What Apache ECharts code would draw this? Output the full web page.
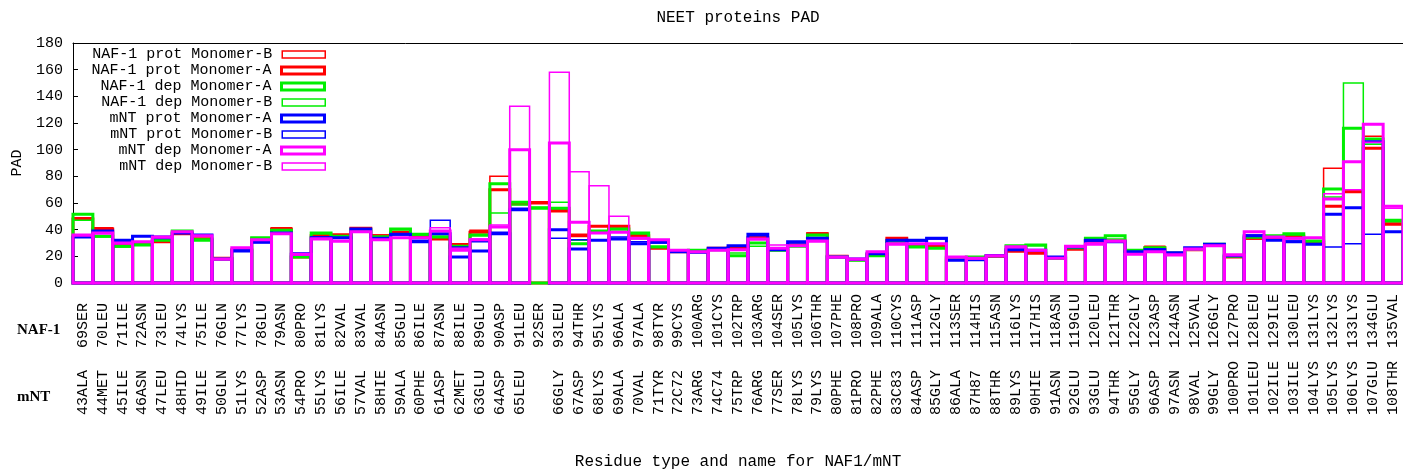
<!DOCTYPE html>
<html>
<head>
<meta charset="utf-8">
<script src="https://cdn.jsdelivr.net/npm/echarts@6/dist/echarts.min.js"></script>
<style>
  html, body { margin: 0; padding: 0; background: #fff; }
  #chart { width: 1403px; height: 470px; }
</style>
</head>
<body>
<div id="chart"></div>
<script>
// Residue labels: NAF-1 numbering on the first row, mNT numbering on the second
const nafResidues = ['69SER','70LEU','71ILE','72ASN','73LEU','74LYS','75ILE','76GLN','77LYS','78GLU','79ASN','80PRO','81LYS','82VAL','83VAL','84ASN','85GLU','86ILE','87ASN','88ILE','89GLU','90ASP','91LEU','92SER','93LEU','94THR','95LYS','96ALA','97ALA','98TYR','99CYS','100ARG','101CYS','102TRP','103ARG','104SER','105LYS','106THR','107PHE','108PRO','109ALA','110CYS','111ASP','112GLY','113SER','114HIS','115ASN','116LYS','117HIS','118ASN','119GLU','120LEU','121THR','122GLY','123ASP','124ASN','125VAL','126GLY','127PRO','128LEU','129ILE','130LEU','131LYS','132LYS','133LYS','134GLU','135VAL'];
const mntResidues = ['43ALA','44MET','45ILE','46ASN','47LEU','48HID','49ILE','50GLN','51LYS','52ASP','53ASN','54PRO','55LYS','56ILE','57VAL','58HIE','59ALA','60PHE','61ASP','62MET','63GLU','64ASP','65LEU','','66GLY','67ASP','68LYS','69ALA','70VAL','71TYR','72C72','73ARG','74C74','75TRP','76ARG','77SER','78LYS','79LYS','80PHE','81PRO','82PHE','83C83','84ASP','85GLY','86ALA','87H87','88THR','89LYS','90HIE','91ASN','92GLU','93GLU','94THR','95GLY','96ASP','97ASN','98VAL','99GLY','100PRO','101LEU','102ILE','103ILE','104LYS','105LYS','106LYS','107GLU','108THR'];

// PAD values per residue ('-' = no mNT residue at that position)
const nafProtB = [49,41.5,28.5,29.5,30.5,36.5,33.5,18,24.5,33.5, 41.5,20,36,36.5,41.5,36,38.5,35,33,29.5, 39.5,80,60,61,55,36.5,43,42,36,26.5, 24,23.5,26.5,27,34.5,25.5,28,37.5,20.5,17.5, 21,34,28.5,28.5,19.5,18.5,20,23.5,22,18, 25,31,32,23,27.5,21.5,25.5,29,20,33, 34,34.5,30,86,69,110,45];
const nafProtA = [48,40.5,28,29,31,37,33,18.5,25,33, 40.5,19.5,35.5,36,41,35.5,38,34.5,33,28.5, 38,70,59.5,60,54,35.5,42.5,42.5,35.5,26, 23.5,23.5,26,26.5,34,25,28.5,37,20,17.5, 21.5,33.5,28,28,19,18,20,24,22.5,18.5, 25.5,31.5,31.5,23.5,26.5,22,25,28.5,19.5,33.5, 33.5,35,30.5,57.5,68.5,101,44];
const nafDepA = [51.5,35,27.5,28.5,32,39,32,18,24.5,34, 39.5,19.5,37.5,35,40,34.5,40.5,36.5,34.5,27.5, 36,74.5,60.5,56,56,29.5,39,40.5,37.5,27, 24,24.5,25,20.5,30,24.5,27.5,36,19.5,17, 20.5,31,27,26,18.5,19.5,20.5,28,28.5,18.5, 26.5,33.5,35.5,24.5,26.5,22.5,25.5,29,20,34.5, 35.5,37,31.5,70.5,116,108,47];
const nafDepB = [47,34.5,27,30,32.5,38.5,33,17.5,25,33.5, 40,20,37,34.5,39.5,35,40,36,35,27, 35.5,52.5,58.5,57,60.5,32,38.5,40,37,27.5, 23.5,24,25.5,22.5,27.5,25,28,35.5,20,17.5, 21,31.5,27.5,26.5,19,19,20,27.5,28,18, 26,33,33,25,26,22,25,28.5,20.5,34, 35,36,31,64.5,150,104,46];
const mntProtA = [34.5,39,32,35,34,37.5,36,18,24,31, 37.5,21.5,34,34,40.5,33.5,36.5,31,37,19.5, 24,37,55,'-',40,25.5,32,33,29.5,30.5, 23.5,23,26,28,36.5,25,31,33.5,19.5,18, 22,32,32,33.5,17,17.5,20.5,25,24.5,19.5, 27,32,31,23.5,25,22.5,26.5,29,20.5,35.5, 32,31,29,51.5,56.5,106,38.5];
const mntProtB = [35,38,31,35.5,35,38,35.5,18,25,30, 37,22.5,34.5,33.5,40,33,36,32,47,27, 31,38,56,'-',33.5,32.5,32.5,34.5,31,30, 24,23.5,25.5,27.5,35.5,25.5,30,33,19.5,17.5, 22.5,32.5,31.5,33,17.5,18,21,25.5,25,19, 27.5,31.5,31.5,23,25.5,23,26,28.5,21,36, 32.5,31.5,29.5,27,29.5,36.5,38];
const mntDepA = [36,37.5,30,31,34.5,38.5,35.5,18,26.5,32.5, 37,21.5,33,31.5,38.5,32.5,34,34,39,24.5, 32.5,42,100,'-',105,45.5,37.5,38,33.5,32.5, 24.5,23.5,24.5,25,33,26,28,31.5,19.5,18, 23.5,29,29.5,29.5,19.5,18.5,20.5,27,24.5,18.5, 27.5,29,31.5,21.5,23.5,21,25.5,28,21,38.5, 34.5,33.5,34,63,91,119,57.5];
const mntDepB = [35.5,37,29.5,31,34,38,35,17.5,26,32, 36.5,21,33.5,31,38,32,33.5,33.5,41.5,26, 33,43.5,132.5,'-',158,83.5,73,50,33,32, 24.5,23,24.5,24.5,32.5,28.5,27.5,31,19,17.5, 23,30,29,29,19,18,20,27.5,25,18.5, 27,30,31,22,23,21.5,25,28,21.5,38, 34,33,33.5,67,70,105.5,56];

const seriesNames = ['NAF-1 prot Monomer-B','NAF-1 prot Monomer-A','NAF-1 dep Monomer-A','NAF-1 dep Monomer-B','mNT prot Monomer-A','mNT prot Monomer-B','mNT dep Monomer-A','mNT dep Monomer-B'];
const seriesValues = [nafProtB, nafProtA, nafDepA, nafDepB, mntProtA, mntProtB, mntDepA, mntDepB];
const seriesColors = ['#ff0000','#ff0000','#00ee00','#00ee00','#0000ff','#0000ff','#ff00ff','#ff00ff'];
const seriesWidths = [1.5, 3, 3, 1.5, 3, 1.5, 3, 1.5];

const MONO = '"Liberation Mono", "DejaVu Sans Mono", monospace';
const SERIF = '"Liberation Serif", "DejaVu Serif", serif';

const chart = echarts.init(document.getElementById('chart'), null, { renderer: 'canvas' });

// Open boxes, one per residue, spanning the full category band; the outline
// is stroked centred on the box edge so neighbouring boxes share their sides.
function boxRenderer(color, lineWidth) {
  return function (params, api) {
    const v = api.value(1);
    if (v === '-' || v == null || isNaN(v)) return null;
    const idx = api.value(0);
    const top = api.coord([idx, v]);
    const base = api.coord([idx, 0]);
    const w = api.size([1, 0])[0];
    return {
      type: 'rect',
      shape: { x: top[0] - w / 2, y: top[1], width: w, height: base[1] - top[1] },
      style: { fill: 'none', stroke: color, lineWidth: lineWidth }
    };
  };
}

const series = seriesNames.map((name, k) => ({
  name: name,
  type: 'custom',
  xAxisIndex: 0,
  yAxisIndex: 0,
  silent: true,
  encode: { x: 0, y: 1 },
  data: seriesValues[k].map((v, i) => [i, v]),
  itemStyle: { color: 'rgba(0,0,0,0)', borderColor: seriesColors[k], borderWidth: seriesWidths[k] },
  renderItem: boxRenderer(seriesColors[k], seriesWidths[k])
}));

// one legend block per entry, right-aligned text with the key box on its right
const legends = seriesNames.map((name, k) => ({
  data: [{
    name: name,
    icon: 'rect',
    itemStyle: { color: 'rgba(0,0,0,0)', borderColor: seriesColors[k], borderWidth: seriesWidths[k] }
  }],
  orient: 'vertical',
  align: 'right',
  right: 1077,
  top: 47 + 16 * k,
  padding: 0,
  itemWidth: 43,
  itemHeight: 7,
  selectedMode: false,
  textStyle: { fontFamily: MONO, fontSize: 15, color: '#000', padding: [0, 5, 0, 0] }
}));

const tickLabel = { fontFamily: MONO, fontSize: 15, color: '#000' };

chart.setOption({
  animation: false,
  backgroundColor: '#ffffff',
  textStyle: { fontFamily: MONO, color: '#000' },
  title: {
    text: 'NEET proteins PAD',
    left: 738,
    top: 10,
    textAlign: 'center',
    padding: 0,
    textStyle: { fontFamily: MONO, fontSize: 16, fontWeight: 'normal', color: '#000' }
  },
  legend: legends,
  grid: { left: 73, right: 0, top: 43, bottom: 187, outerBoundsMode: 'none', containLabel: false },
  xAxis: [
    {
      type: 'category',
      data: nafResidues,
      position: 'bottom',
      axisLine: { onZero: false, lineStyle: { color: '#000', width: 1 } },
      axisTick: { inside: true, length: 5, alignWithLabel: true, lineStyle: { color: '#000' } },
      axisLabel: Object.assign({ interval: 0, rotate: 90, align: 'left', verticalAlign: 'middle', margin: 65 }, tickLabel),
      splitLine: { show: false },
      name: 'Residue type and name for NAF1/mNT',
      nameLocation: 'middle',
      nameGap: 171,
      nameTextStyle: { fontFamily: MONO, fontSize: 16, color: '#000' }
    },
    {
      type: 'category',
      data: mntResidues,
      position: 'bottom',
      axisLine: { show: false, onZero: false },
      axisTick: { show: false },
      axisLabel: Object.assign({ interval: 0, rotate: 90, align: 'left', verticalAlign: 'middle', margin: 132 }, tickLabel),
      splitLine: { show: false }
    },
    {
      type: 'category',
      data: nafResidues,
      position: 'top',
      axisLine: { onZero: false, lineStyle: { color: '#000', width: 1 } },
      axisTick: { inside: true, length: 5, alignWithLabel: true, lineStyle: { color: '#000' } },
      axisLabel: { show: false },
      splitLine: { show: false }
    }
  ],
  yAxis: [{
    type: 'value',
    min: 0,
    max: 180,
    interval: 20,
    position: 'left',
    axisLine: { show: true, lineStyle: { color: '#000', width: 1 } },
    axisTick: { show: true, inside: true, length: 5, lineStyle: { color: '#000' } },
    axisLabel: Object.assign({ margin: 10 }, tickLabel),
    splitLine: { show: false },
    name: 'PAD',
    nameLocation: 'middle',
    nameGap: 48,
    nameRotate: 90,
    nameTextStyle: { fontFamily: MONO, fontSize: 15, color: '#000' }
  }],
  graphic: [
    { type: 'text', x: 17, y: 330, style: { text: 'NAF-1', font: 'bold 15px ' + SERIF, fill: '#000', verticalAlign: 'middle' } },
    { type: 'text', x: 17, y: 397, style: { text: 'mNT', font: 'bold 15px ' + SERIF, fill: '#000', verticalAlign: 'middle' } }
  ],
  series: series
});
</script>
</body>
</html>
